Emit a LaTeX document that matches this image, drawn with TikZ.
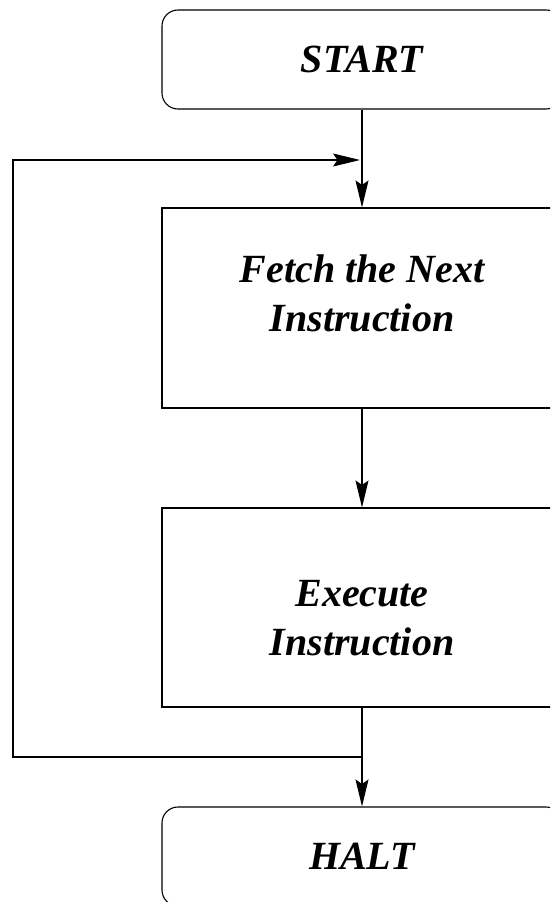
\documentclass[tikz,border=0pt]{standalone}
\usepackage{fontspec}
\setmainfont{Liberation Serif}
\usetikzlibrary{arrows.meta}
\begin{document}
\begin{tikzpicture}[x=1pt,y=-1pt,
  flow/.style={draw=black, line width=1.1pt},
  labelfont/.style={font=\bfseries\itshape\fontsize{40}{49}\selectfont},
  terminal/.style={flow, labelfont, rounded corners=16pt, minimum width=400pt,
                   minimum height=99pt, inner sep=0pt},
  process/.style={flow, minimum width=400pt, minimum height=200pt, inner sep=0pt},
  boxtext/.style={labelfont, anchor=base, inner sep=0pt},
  link/.style={line width=1.1pt, -{Stealth[length=27pt,width=13pt,inset=4.5pt]}}
]
\useasboundingbox (0,0) rectangle (550,902);
\clip (0,0) rectangle (550,902);

% terminals and process boxes
\node[terminal] (start) at (362,59.5) {START};
\node[process] (fetch) at (362,308) {};
\node[boxtext] (fetchA) at (362,282) {Fetch the Next};
\node[boxtext] (fetchB) at (362,331) {Instruction};
\node[process, minimum height=199pt] (exec) at (362,607.5) {};
\node[boxtext] (execA) at (362,606) {Execute};
\node[boxtext] (execB) at (362,655) {Instruction};
\node[terminal] (halt) at (362,856.5) {HALT};

% junction points of the loop
\coordinate (merge) at (362,160);
\coordinate (split) at (362,757);
\coordinate (loopbottom) at (13,757);
\coordinate (looptop) at (13,160);

% main flow
\draw[link] (start.south) -- (fetch.north);
\draw[link] (fetch.south) -- (exec.north);
\draw[link] (exec.south) -- (halt.north);

% loop back to the fetch step
\draw[link] (split) -- (loopbottom) -- (looptop) -- ([xshift=-2pt]merge);
\end{tikzpicture}
\end{document}
